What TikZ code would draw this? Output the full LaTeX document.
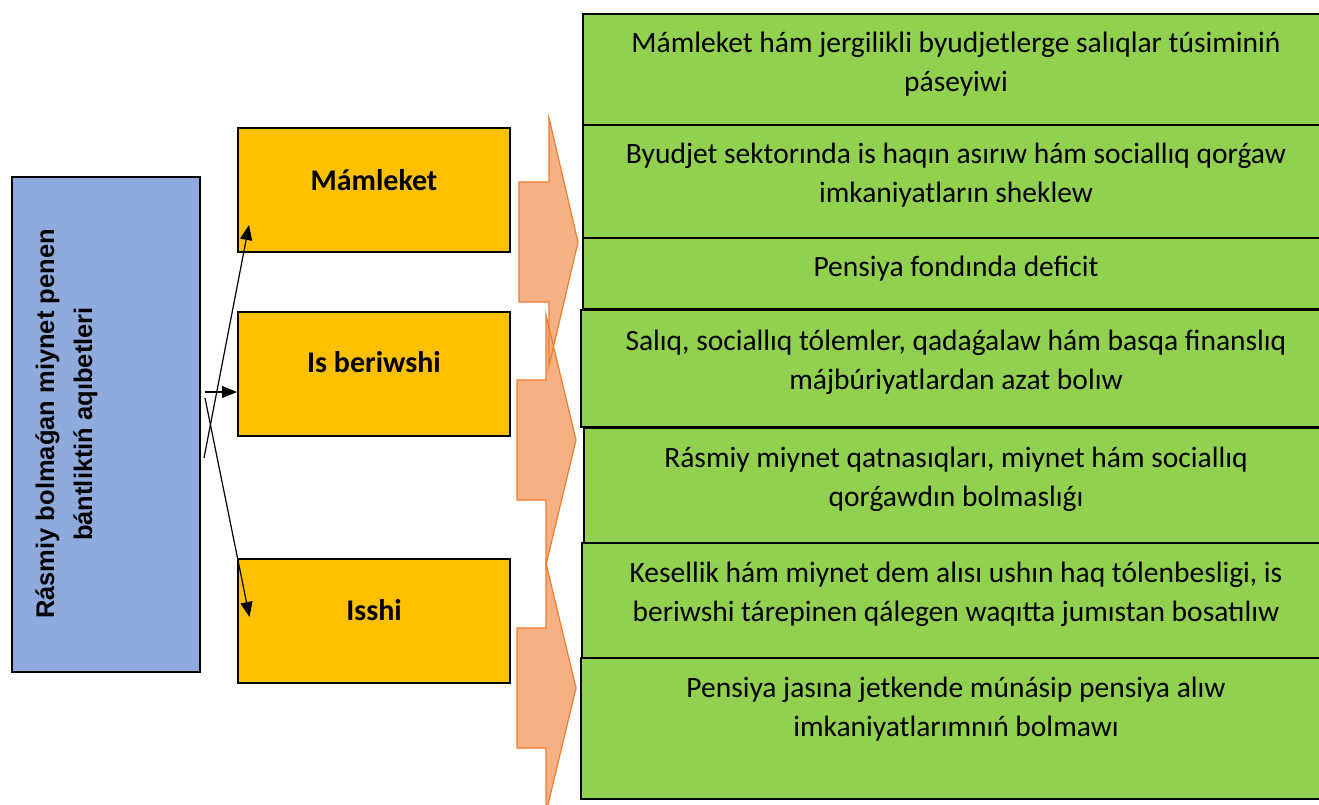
\documentclass[tikz,border=0pt]{standalone}
\usepackage{fontspec}
\setmainfont{Carlito}
\newfontfamily\arialf{Liberation Sans}
\usetikzlibrary{arrows.meta,calc}
\definecolor{gfill}{HTML}{92D050}
\definecolor{ofill}{HTML}{FFC000}
\definecolor{bfill}{HTML}{8FAADC}
\definecolor{cfill}{HTML}{F4B183}
\definecolor{cline}{HTML}{ED7D31}
\tikzset{
  gbox/.style={draw=black, fill=gfill, line width=1.5pt},
  gtext/.style={font=\fontsize{29.5}{39}\selectfont, align=center, anchor=base, inner sep=0pt},
  obox/.style={draw=black, fill=ofill, line width=2pt, inner sep=0pt, minimum width=272pt, minimum height=124pt},
  otext/.style={font=\fontsize{30}{36}\selectfont\bfseries, anchor=base, inner sep=0pt},
  bbox/.style={draw=black, fill=bfill, line width=2pt, inner sep=0pt, minimum width=188pt, minimum height=495pt},
  btext/.style={font=\arialf\bfseries\fontsize{25.5}{38}\selectfont, align=center, anchor=base, rotate=90, inner sep=0pt},
  conn/.style={line width=1.2pt, -{Triangle[length=15pt,width=12pt]}},
  chevfill/.style={fill=cfill},
  chevline/.style={draw=cline, line width=1.2pt, line join=miter},
}
\begin{document}
\begin{tikzpicture}[x=1pt,y=-1pt]
\clip (0,0) rectangle (1319,805);
\fill[white] (0,0) rectangle (1319,805);

% chevrons: fills first, outlines after
\def\chevA{(519,182) -- (549,182) -- (549,118) -- (578,242) -- (549,366) -- (549,302) -- (519,302) -- cycle}
\def\chevB{(517,380) -- (546,380) -- (546,315) -- (576,440) -- (546,565) -- (546,500) -- (517,500) -- cycle}
\def\chevC{(517,628) -- (546,628) -- (546,563) -- (576,688) -- (546,813) -- (546,748) -- (517,748) -- cycle}
\fill[chevfill] \chevC; \fill[chevfill] \chevB; \fill[chevfill] \chevA;
\draw[chevline] \chevC; \draw[chevline] \chevB; \draw[chevline] \chevA;

% green result boxes
\draw[gbox] (583,14) rectangle (1330,125);
\draw[gbox] (583,125) rectangle (1330,238);
\draw[gbox] (583,238) rectangle (1330,309);
\draw[gbox] (581,310) rectangle (1330,427);
\draw[gbox] (584,428) rectangle (1330,543);
\draw[gbox] (582,543) rectangle (1330,658);
\draw[gbox] (581,658) rectangle (1330,799);

% anchor=base of a multi-line node is the baseline of its last line
\node[gtext] (r1) at (956,92) {Mámleket hám jergilikli byudjetlerge salıqlar túsiminiń\\páseyiwi};
\node[gtext] (r2) at (956,203) {Byudjet sektorında is haqın asırıw hám sociallıq qorǵaw\\imkaniyatların sheklew};
\node[gtext] (r3) at (956,276) {Pensiya fondında deficit};
\node[gtext] (r4) at (956,389) {Salıq, sociallıq tólemler, qadaǵalaw hám basqa finanslıq\\májbúriyatlardan azat bolıw};
\node[gtext] (r5) at (956,506) {Rásmiy miynet qatnasıqları, miynet hám sociallıq\\qorǵawdın bolmaslıǵı};
\node[gtext] (r6) at (956,621) {Kesellik hám miynet dem alısı ushın haq tólenbesligi, is\\beriwshi tárepinen qálegen waqıtta jumıstan bosatılıw};
\node[gtext] (r7) at (956,736) {Pensiya jasına jetkende múnásip pensiya alıw\\imkaniyatlarımnıń bolmawı};

% blue cause box
\node[bbox] (cause) at (106,424.5) {};
\node[btext] (causetxt) at (92,424) {Rásmiy bolmaǵan miynet penen\\bántliktiń aqıbetleri};

% orange actor boxes
\node[obox] (mam) at (374,190) {};
\node[obox] (isb) at (374,374) {};
\node[obox] (iss) at (373.5,621) {};
\node[otext] (mamt) at (374,191) {Mámleket};
\node[otext] (isbt) at (374,372) {Is beriwshi};
\node[otext] (isst) at (374,620) {Isshi};

% connectors
\coordinate (s1) at ($(cause.east)+(3,33.5)$);
\coordinate (s2) at ($(cause.east)+(4,-32.5)$);
\coordinate (s3) at ($(cause.east)+(4,-26.5)$);
\coordinate (t1) at ($(mam.south west)+(12,-28)$);
\coordinate (t3) at ($(iss.north west)+(13,59)$);
\draw[conn] (s1) -- (t1);
\draw[conn] (s2) -- (s2 -| isb.west);
\draw[conn] (s3) -- (t3);
\end{tikzpicture}
\end{document}
